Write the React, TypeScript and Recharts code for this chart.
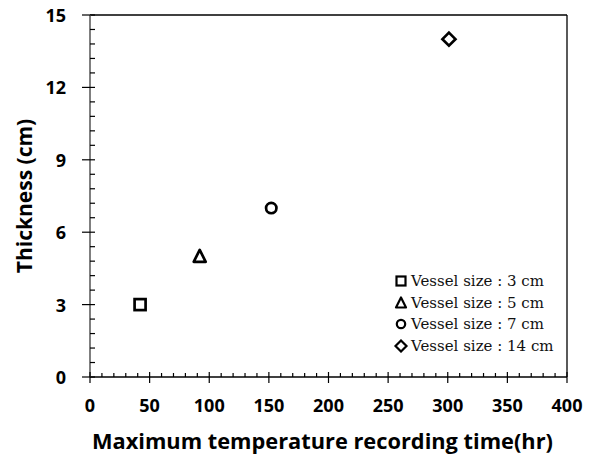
import { ScatterChart, Scatter, XAxis, YAxis, ReferenceLine, Legend, Label } from 'recharts'

// one point per vessel size
const seriesNames = ['Vessel size : 3 cm', 'Vessel size : 5 cm', 'Vessel size : 7 cm', 'Vessel size : 14 cm']
const seriesShapes = ['square', 'triangle', 'circle', 'diamond']
const recordingTime = [42, 92, 152, 301]
const thickness = [3, 5, 7, 14]

const xMajorTicks = [0, 50, 100, 150, 200, 250, 300, 350, 400]
const yMajorTicks = [0, 3, 6, 9, 12, 15]
const minorDivisions = 5

const withMinor = (major: number[]) => {
  const out: number[] = []
  for (let i = 0; i < major.length - 1; i++) {
    const step = (major[i + 1] - major[i]) / minorDivisions
    for (let k = 0; k < minorDivisions; k++) out.push(major[i] + step * k)
  }
  out.push(major[major.length - 1])
  return out
}
const isMajor = (v: number, major: number[]) => major.some((m) => Math.abs(m - v) < 1e-6)

const xTicks = withMinor(xMajorTicks)
const yTicks = withMinor(yMajorTicks)

const tickFont = '"Open Sans", sans-serif'

const Marker = ({ kind, cx, cy, size = 11, sw = 2.7 }: any) => {
  const h = size / 2
  const style = { fill: '#fff', stroke: '#000', strokeWidth: sw }
  if (kind === 'square') return <rect x={cx - h} y={cy - h} width={size} height={size} {...style} />
  if (kind === 'triangle')
    return <polygon points={`${cx},${cy - h - 1} ${cx + h + 0.5},${cy + h} ${cx - h - 0.5},${cy + h}`} strokeLinejoin="round" {...style} />
  if (kind === 'circle') return <circle cx={cx} cy={cy} r={h - 0.3} {...style} />
  return <polygon points={`${cx},${cy - h - 1} ${cx + h + 1},${cy} ${cx},${cy + h + 1} ${cx - h - 1},${cy}`} {...style} />
}

const XTick = ({ x, y, payload }: any) => {
  const major = isMajor(payload.value, xMajorTicks)
  return (
    <g>
      <line x1={x} x2={x} y1={y - (major ? 5 : 4)} y2={major ? y + 6 : y} stroke="#000" strokeWidth={1.2} />
      {major && (
        <text x={x} y={y + 28} textAnchor="middle" dominantBaseline="central" fontFamily={tickFont} fontWeight={700} fontSize={18} fill="#000">
          {payload.value}
        </text>
      )}
    </g>
  )
}

const YTick = ({ x, y, payload }: any) => {
  const major = isMajor(payload.value, yMajorTicks)
  const label = Math.round(payload.value)
  return (
    <g>
      <line x1={major ? x - 8 : x} x2={x + 5} y1={y} y2={y} stroke="#000" strokeWidth={1.2} />
      {major && (
        <text x={x - 24} y={y} textAnchor="end" dominantBaseline="central" fontFamily={tickFont} fontWeight={700} fontSize={18} fill="#000">
          {label}
        </text>
      )}
    </g>
  )
}

const YTitle = ({ viewBox }: any) => {
  const cx = viewBox.x + 24
  const cy = viewBox.y + viewBox.height / 2
  return (
    <text x={cx} y={cy} transform={`rotate(-90 ${cx} ${cy})`} textAnchor="middle" dominantBaseline="central" fontFamily={tickFont} fontWeight={700} fontSize={21} fill="#000">
      Thickness (cm)
    </text>
  )
}

const XTitle = ({ viewBox }: any) => (
  <text x={viewBox.x + viewBox.width / 2 - 6} y={viewBox.y + 63} textAnchor="middle" dominantBaseline="central" fontFamily={tickFont} fontWeight={700} fontSize={21.8} fill="#000">
    Maximum temperature recording time(hr)
  </text>
)

const renderLegend = () => (
  <div style={{ fontFamily: '"DejaVu Serif", serif', fontSize: 15, color: '#111' }}>
    {seriesNames.map((name, i) => (
      <div key={name} style={{ display: 'flex', alignItems: 'center', height: 21.7 }}>
        <svg width={16} height={14} style={{ marginRight: 2 }}>
          <Marker kind={seriesShapes[i]} cx={8} cy={7} size={9} sw={2.2} />
        </svg>
        <span>{name}</span>
      </div>
    ))}
  </div>
)

const App = () => {
  return (
    <div style={{ position: 'absolute', left: 0, top: 0, background: '#fff' }}>
      <ScatterChart width={594} height={458} margin={{ top: 15, right: 27, left: 0, bottom: 0 }}>
        <XAxis
          type="number"
          dataKey="x"
          domain={[0, 400]}
          ticks={xTicks}
          interval={0}
          height={81}
          tickSize={0}
          tickMargin={0}
          tickLine={false}
          tick={<XTick />}
          axisLine={{ stroke: '#000', strokeWidth: 1.3 }}
        >
          <Label content={<XTitle />} />
        </XAxis>
        <YAxis
          type="number"
          dataKey="y"
          domain={[0, 15]}
          ticks={yTicks}
          interval={0}
          width={90}
          tickSize={0}
          tickMargin={0}
          tickLine={false}
          tick={<YTick />}
          axisLine={{ stroke: '#7f7f7f', strokeWidth: 2 }}
        >
          <Label content={<YTitle />} />
        </YAxis>
        <ReferenceLine y={15} stroke="#000" strokeWidth={1.3} />
        <ReferenceLine x={400} stroke="#000" strokeWidth={1.3} />
        <Legend
          layout="horizontal"
          verticalAlign="middle"
          align="center"
          wrapperStyle={{ left: 393, top: 270, width: 185, height: 'auto' }}
          content={renderLegend}
        />
        {seriesNames.map((name, i) => (
          <Scatter
            key={name}
            name={name}
            data={[{ x: recordingTime[i], y: thickness[i] }]}
            isAnimationActive={false}
            shape={(p: any) => <Marker kind={seriesShapes[i]} cx={p.cx} cy={p.cy} />}
          />
        ))}
      </ScatterChart>
    </div>
  )
}

export default App
